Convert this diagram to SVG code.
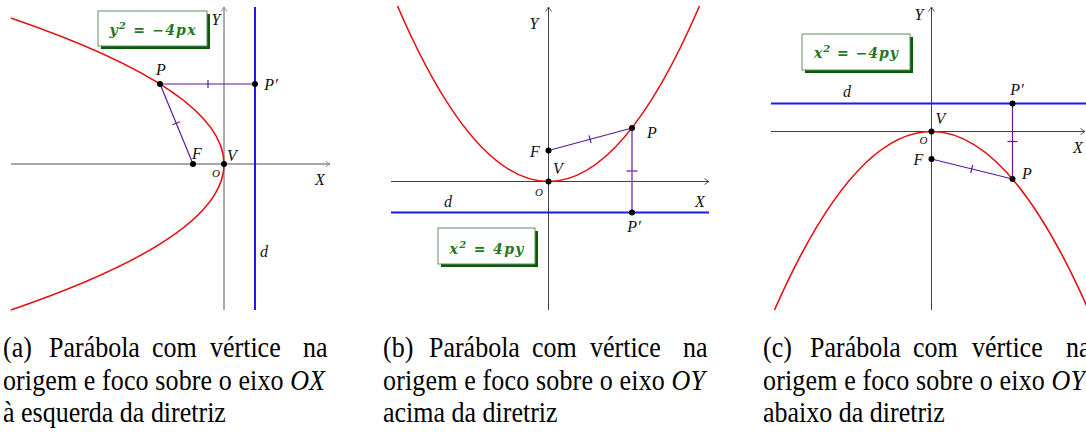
<svg xmlns="http://www.w3.org/2000/svg" width="1086" height="436" viewBox="0 0 1086 436">
<defs>
<marker id="arr" viewBox="-6 -4 7 8" refX="0" refY="0" markerWidth="7" markerHeight="8" markerUnits="userSpaceOnUse" orient="auto">
<path d="M-4.5,-3 Q-1.2,-0.6 0,0 Q-1.2,0.6 -4.5,3" fill="none" stroke="context-stroke" stroke-width="0.9"/>
</marker>
<style>
.axA{stroke:#8a8a8a;stroke-width:1.4;fill:none}
.ax{stroke:#404040;stroke-width:1;fill:none}
.par{stroke:#e41313;stroke-width:1.6;fill:none}
.dir{stroke:#1a1aee;stroke-width:2;fill:none}
.seg{stroke:#5b1a9a;stroke-width:1.2;fill:none}
.segL{stroke:#8a45b0;stroke-width:1.5;fill:none}
.pt{fill:#000}
.lb{font-family:"Liberation Serif","Times New Roman",serif;font-style:italic;font-size:16px;fill:#111;text-anchor:middle}
.lbs{font-family:"Liberation Serif","Times New Roman",serif;font-style:italic;font-size:11px;fill:#111;text-anchor:middle}
.sh{fill:#0a5a0a}
.bx{fill:#fff;stroke:#5f8f5f;stroke-width:1}
.eq{font-family:"DejaVu Serif",serif;font-style:italic;font-weight:bold;font-size:14px;fill:#217821;text-anchor:middle}
.cap{font-family:"Liberation Serif","Times New Roman",serif;font-size:26px;fill:#000}
</style>
</defs>

<!-- Connectors (axes, directrices, segments) -->
<g id="connectors">
<line class="axA" x1="11" y1="164" x2="330" y2="164" marker-end="url(#arr)"/>
<line class="axA" x1="224" y1="310" x2="224" y2="7" marker-end="url(#arr)"/>
<line class="dir" x1="255" y1="7" x2="255" y2="310"/>
<line class="seg" x1="160" y1="84" x2="255" y2="84"/>
<line class="seg" x1="160" y1="84" x2="193" y2="164"/>
<line class="seg" x1="208" y1="80" x2="208" y2="88"/>
<line class="seg" x1="172.4" y1="124.8" x2="179.8" y2="121.8"/>

<line class="ax" x1="391" y1="181.5" x2="709" y2="181.5" marker-end="url(#arr)"/>
<line class="ax" x1="548.5" y1="310" x2="548.5" y2="7" marker-end="url(#arr)"/>
<line class="dir" x1="391" y1="212.5" x2="709" y2="212.5"/>
<line class="seg" x1="548.5" y1="150.5" x2="632" y2="128"/>
<line class="segL" x1="632" y1="128" x2="632" y2="212.5"/>
<line class="seg" x1="589" y1="135.3" x2="591.1" y2="143.1"/>
<line class="segL" x1="626.5" y1="171" x2="637.5" y2="171"/>

<line class="ax" x1="771" y1="131.5" x2="1085" y2="131.5" marker-end="url(#arr)"/>
<line class="ax" x1="931.5" y1="310" x2="931.5" y2="7" marker-end="url(#arr)"/>
<line class="dir" x1="771" y1="103.5" x2="1086" y2="103.5"/>
<line class="seg" x1="931.5" y1="159" x2="1012.5" y2="179"/>
<line class="seg" x1="1012.5" y1="103.5" x2="1012.5" y2="179"/>
<line class="seg" x1="1007.5" y1="141.5" x2="1017.5" y2="141.5"/>
<line class="seg" x1="972.7" y1="165" x2="970.7" y2="172.8"/>
</g>

<!-- Panel (a) -->
<g id="panel-a">
<path class="par" d="M10.84,18 Q437.16,164 10.84,310"/>
<g id="box-a">
<rect class="sh" x="101" y="14" width="109" height="35"/>
<rect class="bx" x="98" y="11" width="109" height="35"/>
<text class="eq" x="152.5" y="35" textLength="86">y<tspan font-size="10" dy="-6">2</tspan><tspan dy="6"> = −4px</tspan></text>
</g>
<g id="a-P"><circle class="pt" cx="160" cy="84" r="3"/><text class="lb" x="161" y="75">P</text></g>
<g id="a-Pp"><circle class="pt" cx="255" cy="84" r="3"/><text class="lb" x="271" y="90">P′</text></g>
<g id="a-F"><circle class="pt" cx="193" cy="164" r="3"/><text class="lb" x="197" y="159">F</text></g>
<g id="a-V"><circle class="pt" cx="224" cy="164" r="3"/><text class="lb" x="232" y="161">V</text></g>
<text class="lbs" x="216" y="176.5">O</text>
<text class="lb" x="320" y="185">X</text>
<text class="lb" x="216" y="25">Y</text>
<text class="lb" x="264" y="257">d</text>
</g>

<!-- Panel (b) -->
<g id="panel-b">
<path class="par" d="M397.5,6 Q548.5,357 699.5,6"/>
<g id="box-b">
<rect class="sh" x="441" y="231" width="97" height="36"/>
<rect class="bx" x="438" y="228" width="97" height="36"/>
<text class="eq" x="486.5" y="254" textLength="74">x<tspan font-size="10" dy="-6">2</tspan><tspan dy="6"> = 4py</tspan></text>
</g>
<g id="b-F"><circle class="pt" cx="548.5" cy="150.5" r="3"/><text class="lb" x="535" y="156.5">F</text></g>
<g id="b-V"><circle class="pt" cx="548.5" cy="181.5" r="3"/><text class="lb" x="558" y="174">V</text></g>
<g id="b-P"><circle class="pt" cx="632" cy="128" r="3"/><text class="lb" x="652" y="138">P</text></g>
<g id="b-Pp"><circle class="pt" cx="632" cy="212.5" r="3"/><text class="lb" x="634" y="232">P′</text></g>
<text class="lbs" x="539" y="195.5">O</text>
<text class="lb" x="700" y="207">X</text>
<text class="lb" x="534" y="29">Y</text>
<text class="lb" x="448" y="207">d</text>
</g>

<!-- Panel (c) -->
<g id="panel-c">
<path class="par" d="M774.5,310 Q931.5,-47 1088.5,310"/>
<g id="box-c">
<rect class="sh" x="805" y="37" width="108" height="36"/>
<rect class="bx" x="802" y="34" width="108" height="36"/>
<text class="eq" x="856" y="58" textLength="84">x<tspan font-size="10" dy="-6">2</tspan><tspan dy="6"> = −4py</tspan></text>
</g>
<g id="c-V"><circle class="pt" cx="931.5" cy="131.5" r="3"/><text class="lb" x="940.5" y="124">V</text></g>
<g id="c-F"><circle class="pt" cx="931.5" cy="159" r="3"/><text class="lb" x="918.5" y="164.5">F</text></g>
<g id="c-P"><circle class="pt" cx="1012.5" cy="179" r="3"/><text class="lb" x="1027" y="178.5">P</text></g>
<g id="c-Pp"><circle class="pt" cx="1012.5" cy="103.5" r="3"/><text class="lb" x="1017" y="95">P′</text></g>
<text class="lbs" x="923.5" y="143.5">O</text>
<text class="lb" x="1078" y="153">X</text>
<text class="lb" x="919" y="20">Y</text>
<text class="lb" x="847" y="97">d</text>
</g>

<!-- Captions -->
<g id="caption-a">
<text class="cap" transform="translate(0,357) scale(1,1.15)"><tspan x="3">(a)</tspan><tspan x="49">Parábola</tspan><tspan x="152">com</tspan><tspan x="210">vértice</tspan><tspan x="303">na</tspan></text>
<text class="cap" transform="translate(3,390) scale(1,1.15)" textLength="322" lengthAdjust="spacing">origem e foco sobre o eixo <tspan font-style="italic">OX</tspan></text>
<text class="cap" transform="translate(3,422) scale(1,1.15)">à esquerda da diretriz</text>
</g>
<g id="caption-b">
<text class="cap" transform="translate(0,357) scale(1,1.15)"><tspan x="383">(b)</tspan><tspan x="429">Parábola</tspan><tspan x="532">com</tspan><tspan x="590">vértice</tspan><tspan x="683">na</tspan></text>
<text class="cap" transform="translate(383,390) scale(1,1.15)" textLength="322" lengthAdjust="spacing">origem e foco sobre o eixo <tspan font-style="italic">OY</tspan></text>
<text class="cap" transform="translate(383,422) scale(1,1.15)">acima da diretriz</text>
</g>
<g id="caption-c">
<text class="cap" transform="translate(0,357) scale(1,1.15)"><tspan x="763">(c)</tspan><tspan x="810">Parábola</tspan><tspan x="913">com</tspan><tspan x="972">vértice</tspan><tspan x="1066">na</tspan></text>
<text class="cap" transform="translate(763,390) scale(1,1.15)" textLength="322" lengthAdjust="spacing">origem e foco sobre o eixo <tspan font-style="italic">OY</tspan></text>
<text class="cap" transform="translate(763,422) scale(1,1.15)">abaixo da diretriz</text>
</g>
</svg>
